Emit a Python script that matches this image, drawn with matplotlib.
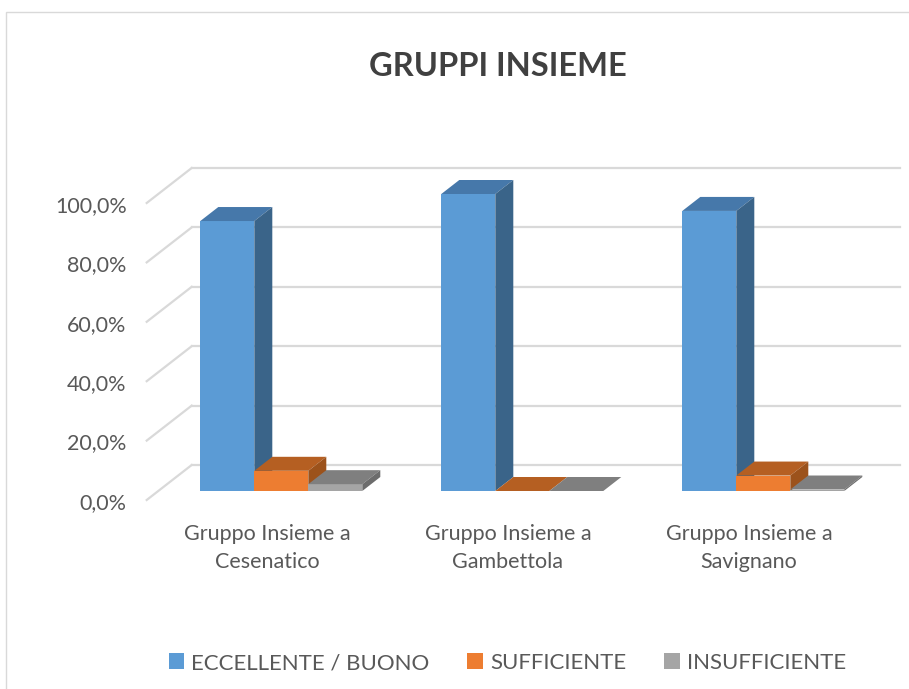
import matplotlib
matplotlib.use("Agg")
import matplotlib.pyplot as plt
from matplotlib.patches import Polygon, Rectangle, Patch

# data
categories = ["Gruppo Insieme a\nCesenatico", "Gruppo Insieme a\nGambettola", "Gruppo Insieme a\nSavignano"]
series = ["ECCELLENTE / BUONO", "SUFFICIENTE", "INSUFFICIENTE"]
eccellente = [90.9, 100.0, 94.3]
sufficiente = [6.8, 0.0, 5.2]
insufficiente = [2.3, 0.0, 0.5]
yticks = [0, 20, 40, 60, 80, 100]
ytick_labels = ["0,0%", "20,0%", "40,0%", "60,0%", "80,0%", "100,0%"]

# colours: front, top, side
colors = [("#5B9BD5", "#4678AA", "#3A6489"),
          ("#ED7D31", "#B55F22", "#9C521B"),
          ("#A5A5A5", "#7F7F7F", "#6C6C6C")]

W, H = 909, 689
PX_CAT = 241.0          # pixels per category
PX_PCT = 2.97           # pixels per percent
X0, Y0 = 281.3, 491.0   # pixel of category 0 centre / 0% on the bar front plane

plt.rcParams['font.family'] = ['Lato', 'DejaVu Sans']
fig = plt.figure(figsize=(W / 100, H / 100), dpi=100)
ax = fig.add_axes([0, 0, 1, 1])
ax.set_xlim(-X0 / PX_CAT, (W - X0) / PX_CAT)
ax.set_ylim((Y0 - H) / PX_PCT, Y0 / PX_PCT)
ax.axis('off')

# chart border
fig.patches.append(Rectangle((6 / W, -0.01), 1.0, 1 - 12 / H + 0.01, transform=fig.transFigure,
                             fill=False, edgecolor="#d9d9d9", lw=1))

# depth of floor (front -> back wall) in data units
Dx, Dy = 45 / PX_CAT, 35 / PX_PCT
f_front, f_back = 0.257, 0.657          # bar front/back as fraction of floor depth
wall_left = (191.7 - X0) / PX_CAT
wall_right = (900 - X0) / PX_CAT
back = 1 - f_front

grid_c = "#d9d9d9"
for v in yticks:
    yb = v + back * Dy
    ax.plot([wall_left, wall_right], [yb, yb], color=grid_c, lw=1.6, zorder=1)
    ax.plot([wall_left - Dx, wall_left], [yb - Dy, yb], color=grid_c, lw=1.6, zorder=1)

for v, lab in zip(yticks, ytick_labels):
    ax.text(wall_left - Dx - 20 / PX_CAT, v - f_front * Dy - 1.0, lab, ha='right', va='center',
            fontsize=15.5, color="#595959")

bw = 54 / PX_CAT
bdx, bdy = (f_back - f_front) * Dx, (f_back - f_front) * Dy
values = [eccellente, sufficiente, insufficiente]
for i in range(len(categories)):
    for j, vals in enumerate(values):
        v = vals[i]
        x = i - 1.5 * bw + j * bw
        front_c, top_c, side_c = colors[j]
        z = 3 + i * 3 + j
        ax.add_patch(Polygon([(x, 0), (x + bw, 0), (x + bw, v), (x, v)], closed=True,
                             facecolor=front_c, edgecolor='none', zorder=z))
        ax.add_patch(Polygon([(x, v), (x + bw, v), (x + bw + bdx, v + bdy), (x + bdx, v + bdy)],
                             closed=True, facecolor=top_c, edgecolor='none', zorder=z))
        ax.add_patch(Polygon([(x + bw, 0), (x + bw + bdx, bdy), (x + bw + bdx, v + bdy), (x + bw, v)],
                             closed=True, facecolor=side_c, edgecolor='none', zorder=z))
    ax.text(i - 0.06, (Y0 - 548) / PX_PCT, categories[i], ha='center', va='center',
            fontsize=15.5, color="#595959", linespacing=1.55)

ax.text(0.548, 1 - 67 / H, "GRUPPI INSIEME", transform=ax.transAxes, ha='center', va='center',
        fontsize=23.5, fontweight='bold', color="#404040")

handles = [Patch(facecolor=c[0], edgecolor='none') for c in colors]
fig.legend(handles, series, loc='center', bbox_to_anchor=(0.558, 1 - 663 / H), ncol=3,
           frameon=False, fontsize=16, handlelength=0.7, handleheight=0.7, handletextpad=0.32,
           columnspacing=1.7, labelcolor="#595959")

fig.savefig("out.png", dpi=100)
